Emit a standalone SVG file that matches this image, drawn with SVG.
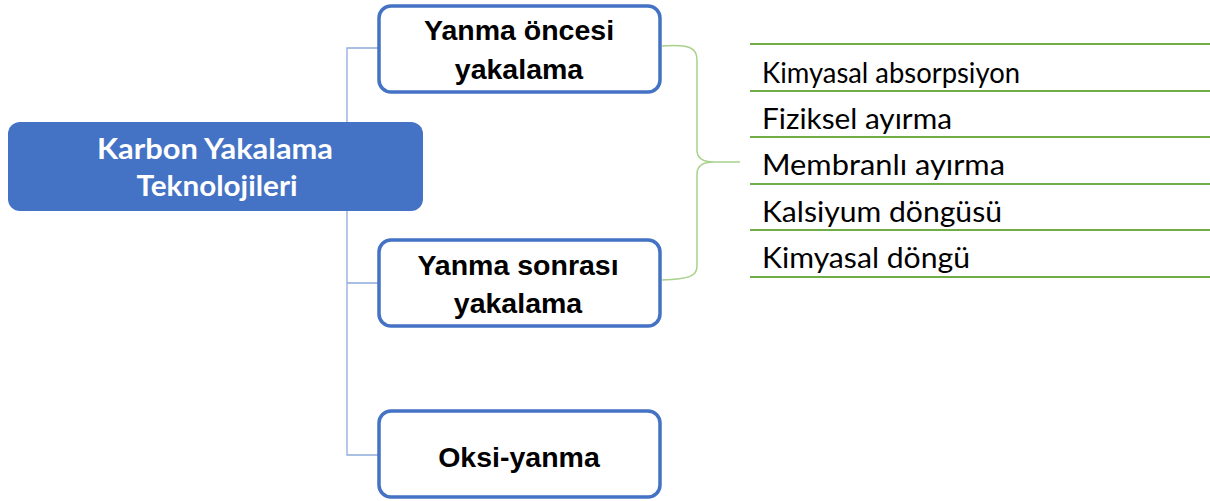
<svg xmlns="http://www.w3.org/2000/svg" width="1210" height="501" viewBox="0 0 1210 501">
<style>
.conn{fill:none;stroke:#8FAADC;stroke-width:1.3}
.brace{fill:none;stroke:#A9D18E;stroke-width:1.5}
.rule{stroke:#70AD47;stroke-width:2}
.child rect{fill:#FFFFFF;stroke:#4472C4;stroke-width:3.5}
.child text{font-family:"Liberation Sans",Arial,sans-serif;font-weight:bold;font-size:28.5px;fill:#000;text-anchor:middle}
.root rect{fill:#4472C4}
.root text{font-family:Lato,"Liberation Sans",sans-serif;font-weight:bold;font-size:28px;fill:#FFFFFF;text-anchor:middle}
.item{font-family:Lato,"Liberation Sans",sans-serif;font-size:28px;fill:#000}
</style>
<rect width="1210" height="501" fill="#FFFFFF"/>
<g id="connectors">
<path class="conn" d="M379,48 H347 V455 H379 M347,283 H379"/>
<path class="brace" d="M662,46 C690,44 697,48 697,60 L697,150 C697,158 703,162 714,162 L740,162 M714,162 C703,162 697,166 697,174 L697,266 C697,276 690,279 662,280"/>
</g>
<g id="root" class="root">
<rect x="8" y="122" width="415" height="89" rx="12"/>
<text x="215" y="159" textLength="236" lengthAdjust="spacingAndGlyphs">Karbon Yakalama</text>
<text x="217" y="196" textLength="161" lengthAdjust="spacingAndGlyphs">Teknolojileri</text>
</g>
<g id="n-oncesi" class="child">
<rect x="379" y="6" width="281" height="86" rx="12"/>
<text x="519" y="40">Yanma öncesi</text>
<text x="519" y="79">yakalama</text>
</g>
<g id="n-sonrasi" class="child">
<rect x="379" y="240" width="281" height="86" rx="12"/>
<text x="518" y="275">Yanma sonrası</text>
<text x="518" y="313">yakalama</text>
</g>
<g id="n-oksi" class="child">
<rect x="379" y="411" width="281" height="86" rx="12"/>
<text x="519" y="467">Oksi-yanma</text>
</g>
<g id="list">
<line class="rule" x1="750" y1="44" x2="1210" y2="44"/>
<line class="rule" x1="750" y1="91" x2="1210" y2="91"/>
<line class="rule" x1="750" y1="137" x2="1210" y2="137"/>
<line class="rule" x1="750" y1="184" x2="1210" y2="184"/>
<line class="rule" x1="750" y1="230" x2="1210" y2="230"/>
<line class="rule" x1="750" y1="277" x2="1210" y2="277"/>
<text class="item" x="762" y="83" textLength="258" lengthAdjust="spacingAndGlyphs">Kimyasal absorpsiyon</text>
<text class="item" x="762" y="129" textLength="190" lengthAdjust="spacingAndGlyphs">Fiziksel ayırma</text>
<text class="item" x="762" y="175" textLength="243" lengthAdjust="spacingAndGlyphs">Membranlı ayırma</text>
<text class="item" x="762" y="222" textLength="240" lengthAdjust="spacingAndGlyphs">Kalsiyum döngüsü</text>
<text class="item" x="762" y="268" textLength="208" lengthAdjust="spacingAndGlyphs">Kimyasal döngü</text>
</g>
</svg>
